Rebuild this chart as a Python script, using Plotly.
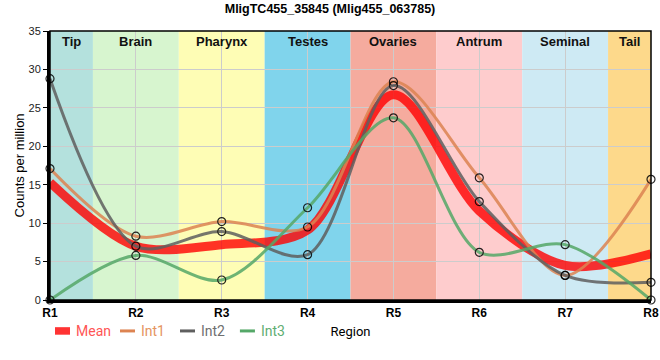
import plotly.graph_objects as go

# ---- data ----
regions_x = ["R1", "R2", "R3", "R4", "R5", "R6", "R7", "R8"]
x_pos = [1, 2, 3, 4, 5, 6, 7, 8]
int1 = [17.1, 8.3, 10.2, 9.5, 28.4, 15.9, 3.2, 15.7]
int2 = [28.8, 7.0, 8.9, 5.9, 27.9, 12.8, 3.2, 2.3]
int3 = [0.0, 5.8, 2.6, 12.0, 23.7, 6.2, 7.2, 0.0]
mean = [15.3, 7.0, 7.2, 9.1, 26.7, 11.6, 4.5, 6.0]

region_names = ["Tip", "Brain", "Pharynx", "Testes", "Ovaries", "Antrum", "Seminal", "Tail"]
region_start = [1, 1.5, 2.5, 3.5, 4.5, 5.5, 6.5, 7.5]
region_end = [1.5, 2.5, 3.5, 4.5, 5.5, 6.5, 7.5, 8]
region_colors = ["#b4e1dd", "#d7f5cf", "#fefdb5", "#80d4ec", "#f5ab9e", "#fecccd", "#ceeaf4", "#fdd98b"]

series = [
    ("Int1", int1, "#DD8452", "#e5955f"),
    ("Int2", int2, "#5f5f5f", "#6f6f6f"),
    ("Int3", int3, "#55A868", "#5fae72"),
]

fig = go.Figure()

fig.add_trace(go.Scatter(
    x=x_pos, y=mean, mode="lines", name="Mean",
    line=dict(color="rgba(255,0,0,0.8)", width=9, shape="spline", smoothing=0.9),
    showlegend=False, cliponaxis=False,
))
for name, vals, col, _ in series:
    fig.add_trace(go.Scatter(
        x=x_pos, y=vals, mode="lines+markers", name=name,
        line=dict(color=col, width=3, shape="spline", smoothing=0.9),
        opacity=0.85,
        marker=dict(symbol="circle-open", size=8, color="black", line=dict(width=1.2, color="black")),
        showlegend=False, cliponaxis=False,
    ))

shapes = []
annotations = []
for nm, s, e, c in zip(region_names, region_start, region_end, region_colors):
    shapes.append(dict(type="rect", xref="x", yref="paper", x0=s, x1=e, y0=0, y1=1,
                       fillcolor=c, line=dict(width=0), layer="below"))
    annotations.append(dict(x=(s + e) / 2, y=0.962, xref="x", yref="paper", text="<b>%s</b>" % nm,
                            showarrow=False, font=dict(size=13, color="#111", family="Liberation Sans"),
                            xanchor="center", yanchor="middle"))

# frame
shapes.append(dict(type="rect", xref="paper", yref="paper", x0=0, x1=1, y0=0, y1=1,
                   line=dict(color="black", width=1.5), layer="above"))

# y axis title
annotations.append(dict(x=-0.05, y=0.5, xref="paper", yref="paper", text="Counts per million",
                        textangle=-90, showarrow=False, xanchor="center", yanchor="middle",
                        font=dict(size=13, color="black", family="Liberation Sans")))

# manual legend
leg_y = -0.115
leg_items = [("Mean", "rgba(255,0,0,0.8)", "#ff5555", 0.0083, 0.0333, 0.040, True)]
leg_items += [
    ("Int1", series[0][2], series[0][3], 0.1165, 0.1414, 0.148, False),
    ("Int2", series[1][2], series[1][3], 0.2163, 0.2413, 0.248, False),
    ("Int3", series[2][2], series[2][3], 0.3160, 0.3410, 0.348, False),
]
for nm, lc, tc, x0, x1, tx, thick in leg_items:
    if thick:
        shapes.append(dict(type="rect", xref="paper", yref="paper", x0=x0, x1=x1,
                           y0=leg_y - 0.014, y1=leg_y + 0.014, fillcolor=lc, line=dict(width=0)))
    else:
        shapes.append(dict(type="line", xref="paper", yref="paper", x0=x0, x1=x1,
                           y0=leg_y, y1=leg_y, line=dict(color=lc, width=3)))
    annotations.append(dict(x=tx, y=leg_y, xref="paper", yref="paper", text=nm, showarrow=False,
                            xanchor="left", yanchor="middle",
                            font=dict(size=14, color=tc, family="Roboto")))

fig.update_layout(
    width=660, height=360,
    margin=dict(l=50, r=9, t=31, b=60, autoexpand=False),
    paper_bgcolor="white", plot_bgcolor="white",
    title=dict(text="<b>MligTC455_35845 (Mlig455_063785)</b>", x=0.5, xanchor="center",
               y=0.975, yanchor="middle", font=dict(size=12.5, color="black", family="Liberation Sans")),
    xaxis=dict(range=[1, 8], tickvals=x_pos, ticktext=["<b>%s</b>" % r for r in regions_x],
               showgrid=True, gridcolor="#cccccc", gridwidth=1, automargin=False,
               showline=True, linecolor="black", linewidth=3,
               ticks="", zeroline=False,
               tickfont=dict(size=12, color="black", family="Liberation Sans"),
               title=dict(text="Region", font=dict(size=13, color="black", family="Roboto"), standoff=8)),
    yaxis=dict(range=[0, 35], tickvals=[0, 5, 10, 15, 20, 25, 30, 35],
               showgrid=True, gridcolor="#cccccc", gridwidth=1, automargin=False,
               showline=True, linecolor="black", linewidth=3,
               ticks="outside", ticklen=4, tickcolor="black", zeroline=False,
               tickfont=dict(size=11, color="#222", family="Liberation Sans")),
    shapes=shapes, annotations=annotations, showlegend=False,
)

fig.write_html("out.html", config={"displayModeBar": False},
               post_script="document.body.style.margin='0';")
